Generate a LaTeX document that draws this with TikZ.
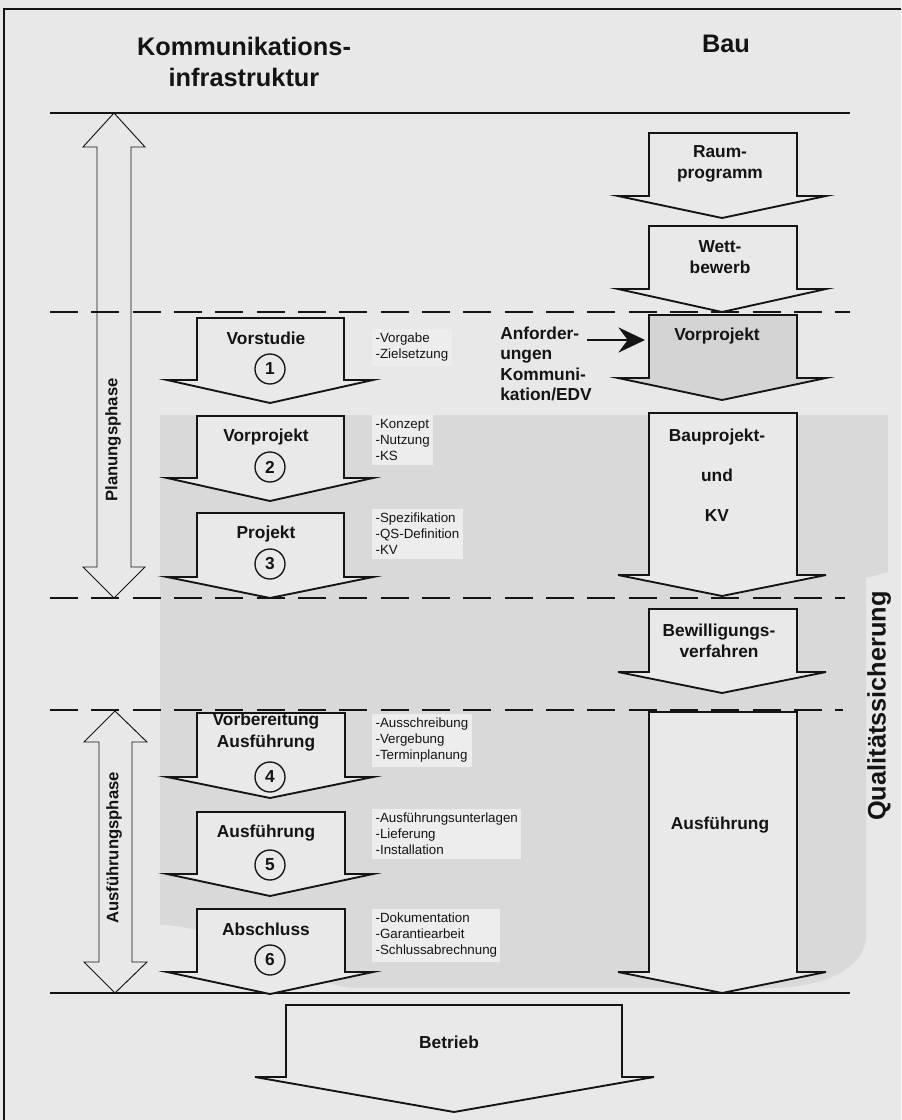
\documentclass[tikz,border=0pt]{standalone}
\usepackage{fontspec}
\setmainfont{Liberation Sans}
\usepackage{tikz}
\usetikzlibrary{arrows.meta}

\definecolor{pagebg}{gray}{0.91}
\definecolor{shadegray}{gray}{0.85}
\definecolor{arrowfill}{gray}{0.915}
\definecolor{vpfill}{gray}{0.83}
\definecolor{notefill}{gray}{0.93}
\definecolor{ink}{gray}{0.08}

\begin{document}
\begin{tikzpicture}[x=0.75pt,y=0.75pt,yscale=-1,xscale=1,
  blockarrow/.style={draw=ink, line width=1.4pt, fill=arrowfill, line join=miter},
  phasearrow/.style={draw=ink, line width=0.7pt, line join=miter},
  phaseline/.style={draw=ink, line width=0.9pt},
  phasedash/.style={draw=ink, line width=0.9pt, dash pattern=on 21pt off 10pt},
  titlelabel/.style={font=\fontsize{19}{23}\selectfont\bfseries, align=center, text=ink, inner sep=0.75pt},
  steplabel/.style={font=\fontsize{13}{16}\selectfont\bfseries, align=center, text=ink, inner sep=0.75pt},
  sidelabel/.style={font=\fontsize{12.5}{15}\selectfont\bfseries, text=ink, inner sep=0.75pt, rotate=90},
  stepnum/.style={circle, draw=ink, line width=1pt, minimum size=22.5pt, inner sep=0pt, text=ink, font=\fontsize{13}{15}\selectfont\bfseries},
  notes/.style={anchor=north west, fill=notefill, align=left, text=ink, font=\fontsize{10}{12}\selectfont, inner xsep=2.5pt, inner ysep=3pt},
  reqarrow/.style={draw=ink, line width=1.2pt, -{Stealth[length=20pt,width=19pt,inset=7pt]}}
]
\useasboundingbox (0,0) rectangle (901,1120);
\fill[pagebg] (0,0) rectangle (901,1120);

%Shape: shaded area
\fill[shadegray] (160,415) -- (888,415) -- (888,572) -- (866,578) -- (866,935) .. controls (866,970) and (820,988) .. (770,988) -- (360,988) .. controls (300,988) and (230,925) .. (160,925) -- cycle ;

%Straight Lines: frame
\draw[draw=ink, line width=0.8pt] (4,1120) -- (4,9) -- (901,9) ;
%Straight Lines: phase borders
\draw[phaseline] (50,113) -- (850,113) ;
\draw[phasedash] (50,312) -- (850,312) ;
\draw[phasedash] (50,598) -- (845,598) ;
\draw[phasedash] (50,710) -- (843,710) ;
\draw[phaseline] (50,993) -- (850,993) ;

%Shape: Double Arrow (Planung)
\draw[phasearrow] (114,113) -- (145,147) -- (131,147) -- (131,567) -- (145,567) -- (114,598) -- (83,567) -- (97,567) -- (97,147) -- (83,147) -- cycle ;
%Shape: Double Arrow (Ausfuehrung)
\draw[phasearrow] (115,711) -- (147,742) -- (132,742) -- (132,962) -- (147,962) -- (115,993) -- (84,962) -- (99,962) -- (99,742) -- (84,742) -- cycle ;

%Shape: Down Arrow 1
\draw[blockarrow] (197,318) -- (344,318) -- (344,380) -- (373,380) -- (270,403) -- (167,380) -- (197,380) -- cycle ;
%Shape: Down Arrow 2
\draw[blockarrow] (197,416) -- (344,416) -- (344,478) -- (373,478) -- (270,501) -- (167,478) -- (197,478) -- cycle ;
%Shape: Down Arrow 3
\draw[blockarrow] (197,513) -- (344,513) -- (344,577) -- (373,577) -- (270,598) -- (167,577) -- (197,577) -- cycle ;
%Shape: Down Arrow 4
\draw[blockarrow] (197,713) -- (345,713) -- (345,777) -- (373,777) -- (270,798) -- (167,777) -- (197,777) -- cycle ;
%Shape: Down Arrow 5
\draw[blockarrow] (197,812) -- (345,812) -- (345,874) -- (373,874) -- (270,896) -- (167,874) -- (197,874) -- cycle ;
%Shape: Down Arrow 6
\draw[blockarrow] (197,909) -- (345,909) -- (345,972) -- (373,972) -- (270,994) -- (167,972) -- (197,972) -- cycle ;

%Shape: Down Arrow Raumprogramm
\draw[blockarrow] (649,133) -- (797,133) -- (797,196) -- (826,196) -- (722,218) -- (618,196) -- (649,196) -- cycle ;
%Shape: Down Arrow Wettbewerb
\draw[blockarrow] (649,226) -- (797,226) -- (797,289) -- (826,289) -- (722,312) -- (618,289) -- (649,289) -- cycle ;
%Shape: Down Arrow Vorprojekt
\draw[blockarrow, fill=vpfill] (649,315) -- (797,315) -- (797,378) -- (826,378) -- (722,400) -- (618,378) -- (649,378) -- cycle ;
%Shape: Down Arrow Bauprojekt
\draw[blockarrow] (649,413) -- (797,413) -- (797,575) -- (826,575) -- (722,596) -- (618,575) -- (649,575) -- cycle ;
%Shape: Down Arrow Bewilligung
\draw[blockarrow] (649,609) -- (797,609) -- (797,672) -- (826,672) -- (722,693) -- (618,672) -- (649,672) -- cycle ;
%Shape: Down Arrow Ausfuehrung
\draw[blockarrow] (649,712) -- (797,712) -- (797,972) -- (826,972) -- (722,993) -- (618,972) -- (649,972) -- cycle ;

%Shape: Down Arrow Betrieb
\draw[blockarrow] (286,1005) -- (622,1005) -- (622,1077) -- (654,1077) -- (454,1112) -- (255,1077) -- (286,1077) -- cycle ;

% Text Node
\node[titlelabel] (kom) at (244,62) {Kommunikations-\\infrastruktur};
% Text Node
\node[titlelabel] (bau) at (726,44) {Bau};

% Text Node
\node[sidelabel] (planung) at (113,440) {Planungsphase};
% Text Node
\node[sidelabel] (ausfphase) at (114,848) {Ausführungsphase};
% Text Node
\node[titlelabel, rotate=90] (qs) at (879,706) {Qualitätssicherung};

% Text Node
\node[steplabel] (vorstudie) at (266,338) {Vorstudie};
\node[stepnum] (n1) at (270,369) {1};
% Text Node
\node[steplabel] (vorprojekt) at (266,437) {Vorprojekt};
\node[stepnum] (n2) at (270,467) {2};
% Text Node
\node[steplabel] (projekt) at (266,534) {Projekt};
\node[stepnum] (n3) at (270,564) {3};
% Text Node
\node[steplabel] (vorbereitung) at (266,732) {Vorbereitung\\Ausführung};
\node[stepnum] (n4) at (270,777) {4};
% Text Node
\node[steplabel] (ausfuehrung) at (266,833) {Ausführung};
\node[stepnum] (n5) at (270,865) {5};
% Text Node
\node[steplabel] (abschluss) at (266,929) {Abschluss};
\node[stepnum] (n6) at (270,960) {6};

% Text Node
\node[notes] (notes1) at (372,329) {-Vorgabe\\-Zielsetzung};
% Text Node
\node[notes] (notes2) at (372,415) {-Konzept\\-Nutzung\\-KS};
% Text Node
\node[notes] (notes3) at (372,509) {-Spezifikation\\-QS-Definition\\-KV};
% Text Node
\node[notes] (notes4) at (372,714) {-Ausschreibung\\-Vergebung\\-Terminplanung};
% Text Node
\node[notes] (notes5) at (372,809) {-Ausführungsunterlagen\\-Lieferung\\-Installation};
% Text Node
\node[notes] (notes6) at (372,909) {-Dokumentation\\-Garantiearbeit\\-Schlussabrechnung};

% Text Node
\node[steplabel] (raum) at (720,164) {Raum-\\programm};
% Text Node
\node[steplabel] (wett) at (720,257) {Wett-\\bewerb};
% Text Node
\node[steplabel] (vorprojektbau) at (717,336) {Vorprojekt};
% Text Node
\node[steplabel] (bauprojekt) at (717,475) {Bauprojekt-\\[14pt]und\\[14pt]KV};
% Text Node
\node[steplabel] (bewilligung) at (719,641) {Bewilligungs-\\verfahren};
% Text Node
\node[steplabel] (ausfuehrungbau) at (720,825) {Ausführung};
% Text Node
\node[steplabel] (betrieb) at (449,1042) {Betrieb};

% Text Node
\node[steplabel, anchor=west, align=left, font=\fontsize{13}{15.4}\selectfont\bfseries] (anf) at (499,364) {Anforder-\\ungen\\Kommuni-\\kation/EDV};
\coordinate (anfout) at (587,340);
\coordinate (vpin) at (645,340);
%Straight Lines: requirement arrow
\draw[reqarrow] (anfout) -- (vpin) ;

\end{tikzpicture}
\end{document}
